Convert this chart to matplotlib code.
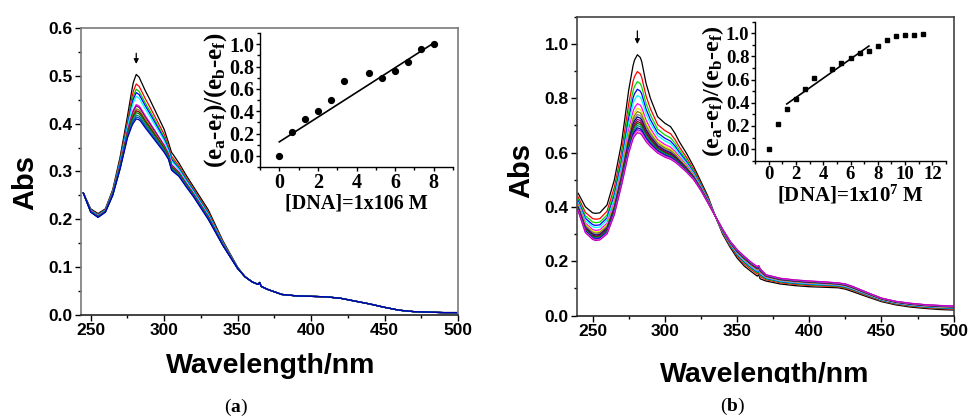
import numpy as np
import matplotlib
matplotlib.use('Agg')
import matplotlib.pyplot as plt
from matplotlib.ticker import MultipleLocator, FormatStrFormatter
from matplotlib.transforms import Bbox

plt.rcParams['font.family'] = ['Liberation Sans', 'DejaVu Sans']
plt.rcParams['font.weight'] = 'bold'
plt.rcParams['mathtext.fontset'] = 'custom'
plt.rcParams['mathtext.rm'] = 'Liberation Serif:bold'
plt.rcParams['mathtext.it'] = 'Liberation Serif:bold'
plt.rcParams['mathtext.bf'] = 'Liberation Serif:bold'

# ---------------- Panel (a) spectra ----------------
wl_a = [245, 250, 255, 260, 265, 270, 275, 278, 279, 281, 283, 284, 287, 290, 295, 300, 303, 305,
        306, 310, 315, 320, 330, 340, 350, 355, 360, 364, 365, 366, 370, 380, 390, 400, 410, 420,
        430, 440, 450, 460, 470, 480, 490, 500]
abs_a_first = [0.255, 0.222, 0.212, 0.222, 0.262, 0.330, 0.415, 0.470, 0.486, 0.503, 0.497, 0.490,
               0.470, 0.452, 0.420, 0.388, 0.360, 0.340, 0.336, 0.318, 0.292, 0.268, 0.220, 0.155,
               0.100, 0.080, 0.069, 0.064, 0.068, 0.060, 0.054, 0.043, 0.040, 0.039, 0.038, 0.035,
               0.029, 0.023, 0.016, 0.010, 0.007, 0.006, 0.005, 0.005]
abs_a_last = [0.255, 0.215, 0.204, 0.215, 0.250, 0.305, 0.370, 0.395, 0.401, 0.410, 0.408, 0.405,
              0.392, 0.380, 0.360, 0.340, 0.325, 0.303, 0.300, 0.290, 0.268, 0.247, 0.200, 0.145,
              0.097, 0.080, 0.069, 0.064, 0.068, 0.060, 0.054, 0.043, 0.040, 0.039, 0.038, 0.035,
              0.029, 0.023, 0.016, 0.010, 0.007, 0.006, 0.005, 0.005]
peaks_a = [0.503, 0.483, 0.472, 0.465, 0.457, 0.440, 0.437, 0.431, 0.427, 0.423, 0.418, 0.414, 0.410]
colors_a = ['#000000', '#FF0000', '#00C800', '#0000FF', '#00FFFF', '#FF00FF', '#800080',
            '#808000', '#800000', '#008000', '#008080', '#0050C0', '#0000B0']

# ---------------- Panel (b) spectra ----------------
wl_b = [240, 245, 250, 252, 255, 260, 265, 270, 275, 278, 279, 281, 283, 284, 287, 290, 295, 300,
        304, 307, 310, 315, 320, 325, 330, 335, 340, 345, 350, 355, 360, 364, 365, 366, 370, 380,
        390, 400, 410, 420, 425, 430, 440, 450, 460, 470, 480, 490, 500]
abs_b_first = [0.450, 0.400, 0.378, 0.376, 0.378, 0.407, 0.498, 0.634, 0.830, 0.920, 0.940, 0.960,
               0.950, 0.935, 0.855, 0.800, 0.732, 0.708, 0.695, 0.671, 0.640, 0.597, 0.548, 0.493,
               0.437, 0.365, 0.300, 0.253, 0.212, 0.182, 0.161, 0.145, 0.150, 0.135, 0.127, 0.116,
               0.110, 0.106, 0.104, 0.102, 0.097, 0.088, 0.069, 0.051, 0.039, 0.031, 0.026, 0.022,
               0.020]
abs_b_last = [0.385, 0.305, 0.280, 0.276, 0.278, 0.300, 0.370, 0.478, 0.597, 0.650, 0.660, 0.673,
              0.670, 0.665, 0.640, 0.622, 0.598, 0.583, 0.575, 0.565, 0.552, 0.528, 0.500, 0.460,
              0.413, 0.365, 0.318, 0.275, 0.243, 0.218, 0.195, 0.180, 0.184, 0.172, 0.150, 0.137,
              0.131, 0.127, 0.124, 0.120, 0.116, 0.107, 0.085, 0.064, 0.052, 0.045, 0.040, 0.037,
              0.035]
peaks_b = [0.960, 0.898, 0.861, 0.833, 0.810, 0.780, 0.763, 0.751, 0.740, 0.731, 0.722, 0.714,
           0.707, 0.699, 0.691, 0.684, 0.678, 0.673]
colors_b = ['#000000', '#FF0000', '#00E000', '#0000FF', '#00FFFF', '#FF00FF', '#E8E800', '#808000',
            '#808080', '#000080', '#800080', '#800000', '#008000', '#008080', '#0000A0', '#8000FF',
            '#FF80C0', '#C000C0']

# ---------------- Inset data ----------------
dna_a = [0, 0.67, 1.33, 2.0, 2.67, 3.33, 4.67, 5.33, 6.0, 6.67, 7.33, 8.0]
ratio_a = [0.0, 0.21, 0.33, 0.40, 0.50, 0.67, 0.74, 0.70, 0.76, 0.84, 0.96, 1.0]
fit_a_x = [0, 8]
fit_a_y = [0.125, 1.01]

dna_b = [0, 0.67, 1.33, 2.0, 2.67, 3.33, 4.67, 5.33, 6.0, 6.67, 7.33, 8.0, 8.67, 9.33, 10.0,
         10.67, 11.33]
ratio_b = [0.0, 0.22, 0.345, 0.43, 0.52, 0.61, 0.69, 0.74, 0.785, 0.83, 0.85, 0.89, 0.945, 0.975,
           0.983, 0.986, 0.997]
fit_b_x = [1.33, 7.35]
fit_b_y = [0.39, 0.89]

W, H = 968, 420
fig = plt.figure(figsize=(W / 100, H / 100), dpi=100)


def px_axes(x0, y0, x1, y1):
    return fig.add_axes([x0 / W, 1 - y1 / H, (x1 - x0) / W, (y1 - y0) / H])


ax_a = px_axes(81, 28, 458, 315)
ax_b = px_axes(577, 16.7, 953.7, 315.5)
in_a = px_axes(260, 33, 453, 167)
in_b = px_axes(755, 21.7, 946, 160.7)


def draw_spectra(ax, wl, first, last, peaks, colors):
    first = np.asarray(first)
    last = np.asarray(last)
    p0, p1 = peaks[0], peaks[-1]
    for p, c in zip(peaks, colors):
        w = (p - p1) / (p0 - p1)
        ax.plot(wl, last + w * (first - last), color=c, lw=0.9)


draw_spectra(ax_a, wl_a, abs_a_first, abs_a_last, peaks_a, colors_a)
draw_spectra(ax_b, wl_b, abs_b_first, abs_b_last, peaks_b, colors_b)

for ax, xlim, ylim, ymaj, ymin, scol in [(ax_a, (243.4, 500), (0, 0.6), 0.1, 0.05, '#7a7a7a'),
                                          (ax_b, (239.2, 500), (0, 1.1), 0.2, 0.1, '#444444')]:
    ax.set_xlim(*xlim)
    ax.set_ylim(*ylim)
    ax.set_xticks([250, 300, 350, 400, 450, 500])
    ax.xaxis.set_minor_locator(MultipleLocator(25))
    ax.yaxis.set_major_locator(MultipleLocator(ymaj))
    ax.yaxis.set_minor_locator(MultipleLocator(ymin))
    ax.yaxis.set_major_formatter(FormatStrFormatter('%.1f'))
    ax.tick_params(which='major', direction='out', length=4, width=1, pad=2, labelsize=12.5,
                   labelfontfamily='Liberation Sans')
    ax.tick_params(which='minor', direction='out', length=2.5, width=1)
    for s in ax.spines.values():
        s.set_color(scol)
        s.set_linewidth(1.2)
    ax.spines['bottom'].set_color('#222222')

ax_a.annotate('', xy=(281, 0.519), xytext=(281, 0.553),
              arrowprops=dict(arrowstyle='-|>', lw=0.9, color='k', mutation_scale=7))
ax_b.annotate('', xy=(281, 0.989), xytext=(281, 1.058),
              arrowprops=dict(arrowstyle='-|>', lw=0.9, color='k', mutation_scale=7))

# insets
serif_b = dict(family='Liberation Serif', fontweight='bold')
for ax, xs, ys, fx, fy, xlim, ms, mk, fs in [
        (in_a, dna_a, ratio_a, fit_a_x, fit_a_y, (-1, 9), 4.2, 'o', 14.5),
        (in_b, dna_b, ratio_b, fit_b_x, fit_b_y, (-1, 13), 3.2, 's', 13.5)]:
    ax.patch.set_alpha(0)
    ax.plot(xs, ys, linestyle='none', marker=mk, ms=ms, color='k')
    ax.plot(fx, fy, color='k', lw=1.2)
    ax.set_xlim(*xlim)
    ax.set_ylim(-0.1, 1.1)
    ax.spines['top'].set_visible(False)
    ax.spines['right'].set_visible(False)
    for s in ('left', 'bottom'):
        ax.spines[s].set_linewidth(1.0)
    ax.set_xticks(list(range(0, int(xlim[1]), 2)))
    ax.xaxis.set_minor_locator(MultipleLocator(1))
    ax.yaxis.set_major_locator(MultipleLocator(0.2))
    ax.yaxis.set_minor_locator(MultipleLocator(0.1))
    ax.yaxis.set_major_formatter(FormatStrFormatter('%.1f'))
    ax.tick_params(which='major', direction='out', length=3, width=1, pad=1, labelsize=fs,
                   labelfontfamily='Liberation Serif')
    ax.tick_params(which='minor', direction='out', length=2, width=1)

ylab = r'(e$_{\mathrm{a}}$-e$_{\mathrm{f}}$)/(e$_{\mathrm{b}}$-e$_{\mathrm{f}}$)'
in_a.set_ylabel(ylab, fontsize=18, labelpad=0, **serif_b)
in_b.set_ylabel(ylab, fontsize=17.5, labelpad=0, **serif_b)
in_a.set_xlabel('[DNA]=1x106 M', fontsize=14.5, labelpad=1, **serif_b)
in_b.set_xlabel(r'[DNA]=1x10$^{7}$ M', fontsize=15, labelpad=0, **serif_b)

# main labels
fig.text(25 / W, 1 - 182 / H, 'Abs', rotation=90, fontsize=21, fontweight='bold',
         ha='center', va='center')
fig.text(521 / W, 1 - 170 / H, 'Abs', rotation=90, fontsize=21, fontweight='bold',
         ha='center', va='center')
fig.text(271 / W, 1 - 372.7 / H, 'Wavelength/nm', fontsize=20.5, fontweight='bold',
         ha='center', va='baseline')
t = fig.text(765 / W, 1 - 381.7 / H, 'Wavelength/nm', fontsize=20.5, fontweight='bold',
             ha='center', va='baseline')
t.set_clip_on(True)
t.set_clip_box(Bbox([[0, H - 383], [W, H]]))

fig.text(236 / W, 1 - 407 / H, r'($\mathbf{a}$)', fontsize=14, family='Liberation Serif',
         fontweight='normal', ha='center', va='center')
fig.text(733 / W, 1 - 406 / H, r'($\mathbf{b}$)', fontsize=14, family='Liberation Serif',
         fontweight='normal', ha='center', va='center')

fig.savefig('out.png', dpi=100)
